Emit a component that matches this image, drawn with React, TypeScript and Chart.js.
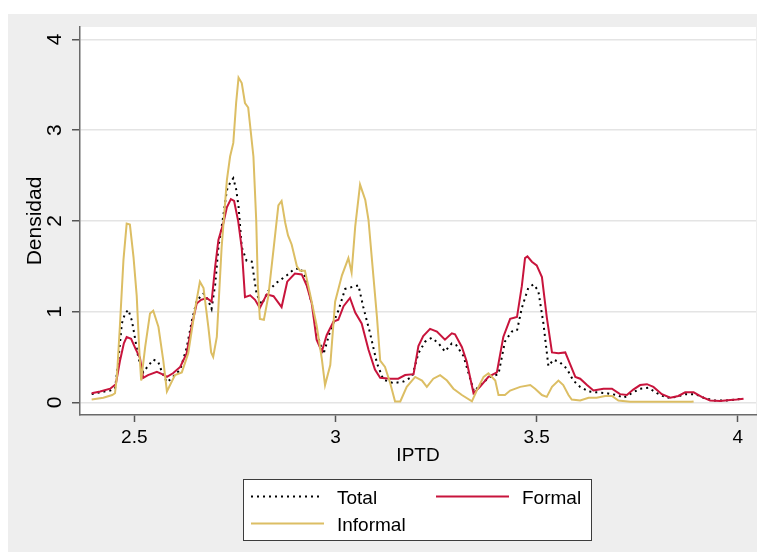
import React, { useEffect, useRef } from 'react';
import { Chart, registerables } from 'chart.js';

Chart.register(...registerables);

const FONT = '"Liberation Sans", Arial, Helvetica, sans-serif';

const seriesNames = ['Total', 'Formal', 'Informal'];
const xTicks = [2.5, 3, 3.5, 4];
const yTicks = [0, 1, 2, 3, 4];
const xTitle = 'IPTD';
const yTitle = 'Densidad';

const totalX = [2.394, 2.415, 2.44, 2.452, 2.459, 2.469, 2.477, 2.485, 2.494, 2.502, 2.51, 2.522, 2.534, 2.547, 2.559, 2.569, 2.581, 2.596, 2.614, 2.63, 2.643, 2.655, 2.672, 2.683, 2.692, 2.701, 2.709, 2.721, 2.73, 2.738, 2.746, 2.753, 2.759, 2.767, 2.779, 2.792, 2.804, 2.817, 2.833, 2.854, 2.879, 2.895, 2.912, 2.924, 2.941, 2.953, 2.97, 2.987, 3.007, 3.024, 3.04, 3.057, 3.069, 3.086, 3.103, 3.119, 3.144, 3.169, 3.19, 3.206, 3.223, 3.239, 3.256, 3.272, 3.289, 3.3, 3.318, 3.33, 3.344, 3.364, 3.384, 3.405, 3.421, 3.438, 3.451, 3.463, 3.479, 3.492, 3.504, 3.517, 3.529, 3.542, 3.558, 3.575, 3.591, 3.608, 3.629, 3.649, 3.674, 3.699, 3.716, 3.736, 3.757, 3.778, 3.799, 3.823, 3.848, 3.869, 3.894, 3.915, 3.939, 3.972, 4.014];
const totalY = [0.09, 0.11, 0.13, 0.15, 0.4, 0.87, 0.98, 1.02, 0.9, 0.7, 0.49, 0.33, 0.4, 0.47, 0.45, 0.33, 0.22, 0.28, 0.36, 0.6, 0.9, 1.12, 1.2, 1.13, 1.03, 1.3, 1.71, 2.05, 2.34, 2.42, 2.47, 2.35, 2.16, 1.71, 1.56, 1.55, 1.19, 1.08, 1.23, 1.32, 1.4, 1.46, 1.48, 1.39, 1.09, 0.77, 0.53, 0.79, 1.01, 1.25, 1.27, 1.29, 1.05, 0.76, 0.43, 0.25, 0.21, 0.23, 0.28, 0.54, 0.67, 0.71, 0.65, 0.56, 0.65, 0.63, 0.51, 0.33, 0.12, 0.21, 0.28, 0.31, 0.67, 0.78, 0.79, 1.04, 1.26, 1.3, 1.23, 0.86, 0.4, 0.47, 0.44, 0.37, 0.24, 0.17, 0.12, 0.11, 0.1, 0.08, 0.05, 0.1, 0.15, 0.16, 0.1, 0.05, 0.06, 0.09, 0.09, 0.05, 0.02, 0.02, 0.04];

const formalX = [2.394, 2.415, 2.44, 2.454, 2.464, 2.474, 2.481, 2.492, 2.504, 2.514, 2.522, 2.534, 2.556, 2.569, 2.581, 2.596, 2.614, 2.63, 2.643, 2.655, 2.666, 2.68, 2.692, 2.701, 2.709, 2.721, 2.73, 2.74, 2.748, 2.758, 2.767, 2.775, 2.788, 2.8, 2.812, 2.829, 2.846, 2.866, 2.88, 2.899, 2.916, 2.929, 2.941, 2.953, 2.966, 2.978, 2.995, 3.007, 3.02, 3.036, 3.049, 3.065, 3.082, 3.098, 3.111, 3.136, 3.156, 3.173, 3.194, 3.206, 3.218, 3.235, 3.252, 3.272, 3.289, 3.297, 3.314, 3.326, 3.343, 3.359, 3.38, 3.401, 3.417, 3.434, 3.451, 3.463, 3.471, 3.477, 3.488, 3.5, 3.513, 3.525, 3.538, 3.554, 3.571, 3.583, 3.596, 3.608, 3.625, 3.641, 3.666, 3.687, 3.707, 3.724, 3.74, 3.757, 3.774, 3.79, 3.811, 3.832, 3.852, 3.869, 3.89, 3.91, 3.931, 3.956, 3.981, 3.997, 4.014];
const formalY = [0.1, 0.12, 0.15, 0.2, 0.45, 0.65, 0.72, 0.7, 0.58, 0.49, 0.27, 0.3, 0.335, 0.31, 0.28, 0.32, 0.39, 0.54, 0.85, 1.09, 1.13, 1.15, 1.11, 1.5, 1.79, 1.97, 2.15, 2.24, 2.22, 2.0, 1.7, 1.16, 1.18, 1.13, 1.04, 1.19, 1.17, 1.05, 1.33, 1.42, 1.41, 1.28, 1.09, 0.69, 0.56, 0.74, 0.89, 0.91, 1.06, 1.15, 0.99, 0.87, 0.58, 0.36, 0.27, 0.26, 0.26, 0.3, 0.31, 0.62, 0.73, 0.81, 0.78, 0.69, 0.76, 0.75, 0.61, 0.45, 0.1, 0.17, 0.28, 0.33, 0.72, 0.92, 0.94, 1.28, 1.59, 1.61, 1.55, 1.51, 1.38, 0.94, 0.55, 0.54, 0.55, 0.42, 0.28, 0.26, 0.19, 0.13, 0.15, 0.15, 0.09, 0.08, 0.14, 0.19, 0.2, 0.17, 0.09, 0.05, 0.07, 0.11, 0.11, 0.06, 0.02, 0.015, 0.025, 0.03, 0.04];

const informalX = [2.394, 2.423, 2.445, 2.452, 2.457, 2.464, 2.473, 2.481, 2.489, 2.498, 2.506, 2.512, 2.517, 2.527, 2.539, 2.547, 2.56, 2.572, 2.581, 2.601, 2.618, 2.634, 2.651, 2.663, 2.672, 2.684, 2.691, 2.696, 2.705, 2.717, 2.73, 2.738, 2.746, 2.753, 2.759, 2.767, 2.775, 2.783, 2.796, 2.803, 2.807, 2.812, 2.822, 2.833, 2.846, 2.858, 2.866, 2.875, 2.882, 2.891, 2.904, 2.912, 2.924, 2.937, 2.953, 2.966, 2.974, 2.987, 2.999, 3.016, 3.032, 3.04, 3.049, 3.061, 3.074, 3.082, 3.09, 3.103, 3.111, 3.123, 3.136, 3.148, 3.161, 3.177, 3.198, 3.215, 3.227, 3.243, 3.26, 3.277, 3.293, 3.314, 3.339, 3.351, 3.368, 3.38, 3.397, 3.405, 3.421, 3.434, 3.459, 3.484, 3.496, 3.513, 3.525, 3.538, 3.554, 3.566, 3.579, 3.587, 3.608, 3.629, 3.649, 3.67, 3.687, 3.703, 3.732, 3.809, 3.884, 3.89];
const informalY = [0.03, 0.05, 0.08, 0.1, 0.3, 0.83, 1.57, 1.97, 1.96, 1.6, 1.17, 0.6, 0.24, 0.61, 0.98, 1.01, 0.83, 0.46, 0.12, 0.3, 0.33, 0.54, 1.03, 1.33, 1.26, 0.83, 0.55, 0.5, 0.72, 1.71, 2.45, 2.71, 2.86, 3.3, 3.58, 3.52, 3.3, 3.25, 2.71, 2.0, 1.3, 0.92, 0.91, 1.17, 1.69, 2.17, 2.22, 1.98, 1.84, 1.74, 1.5, 1.45, 1.45, 1.19, 0.85, 0.48, 0.19, 0.41, 1.11, 1.4, 1.59, 1.43, 1.94, 2.4, 2.23, 2.01, 1.6, 0.94, 0.46, 0.39, 0.21, 0.01, 0.01, 0.17, 0.28, 0.24, 0.17, 0.26, 0.3, 0.24, 0.15, 0.08, 0.01, 0.13, 0.28, 0.32, 0.24, 0.08, 0.08, 0.13, 0.17, 0.19, 0.15, 0.08, 0.06, 0.17, 0.24, 0.19, 0.08, 0.03, 0.02, 0.05, 0.05, 0.07, 0.07, 0.02, 0.005, 0.005, 0.005, 0.01];

const toPoints = (xs: number[], ys: number[]) => xs.map((x, i) => ({ x, y: ys[i] }));

const legendPlugin = {
  id: 'stataLegend',
  afterDraw(chart: any) {
    const ctx = chart.ctx;
    const ds = chart.data.datasets;
    ctx.save();
    ctx.fillStyle = '#ffffff';
    ctx.fillRect(235, 465, 349, 62);
    ctx.strokeStyle = '#3c3c3c';
    ctx.lineWidth = 1;
    ctx.strokeRect(235.5, 465.5, 348, 61);
    const items = [
      { i: 0, x1: 243, x2: 314, y: 482.5, tx: 329, ty: 490 },
      { i: 1, x1: 428, x2: 501, y: 482.5, tx: 514, ty: 490 },
      { i: 2, x1: 243, x2: 316, y: 509.5, tx: 329, ty: 517 },
    ];
    ctx.font = `19px ${FONT}`;
    ctx.textBaseline = 'alphabetic';
    ctx.textAlign = 'left';
    for (const it of items) {
      const d = ds[it.i];
      ctx.strokeStyle = d.borderColor;
      ctx.lineWidth = d.borderWidth;
      ctx.setLineDash(d.borderDash || []);
      ctx.beginPath();
      ctx.moveTo(it.x1, it.y);
      ctx.lineTo(it.x2, it.y);
      ctx.stroke();
      ctx.setLineDash([]);
      ctx.fillStyle = '#000000';
      ctx.fillText(d.label, it.tx, it.ty);
    }
    ctx.restore();
  },
};

const areaPlugin = {
  id: 'plotArea',
  beforeDraw(chart: any) {
    const { ctx, chartArea } = chart;
    ctx.save();
    ctx.fillStyle = '#ffffff';
    ctx.fillRect(chartArea.left, chartArea.top, chartArea.right - chartArea.left, chartArea.bottom - chartArea.top);
    ctx.restore();
  },
};

export default function App() {
  const ref = useRef<HTMLCanvasElement | null>(null);
  useEffect(() => {
    if (!ref.current) return;
    const chart = new Chart(ref.current, {
      type: 'line',
      data: {
        datasets: [
          {
            label: seriesNames[0],
            data: toPoints(totalX, totalY),
            borderColor: '#000000',
            borderWidth: 2,
            borderDash: [2, 4],
            pointRadius: 0,
            tension: 0,
            fill: false,
            order: 3,
          },
          {
            label: seriesNames[1],
            data: toPoints(formalX, formalY),
            borderColor: '#c8143c',
            borderWidth: 2,
            pointRadius: 0,
            tension: 0,
            fill: false,
            order: 2,
          },
          {
            label: seriesNames[2],
            data: toPoints(informalX, informalY),
            borderColor: '#dcbe64',
            borderWidth: 2,
            pointRadius: 0,
            tension: 0,
            fill: false,
            order: 1,
          },
        ],
      },
      options: {
        animation: false,
        responsive: false,
        maintainAspectRatio: false,
        layout: { padding: { top: 13, right: 1, left: 0, bottom: 0 } },
        plugins: {
          legend: { display: false },
          tooltip: { enabled: false },
        },
        scales: {
          x: {
            type: 'linear',
            min: 2.365,
            max: 4.045,
            afterBuildTicks: (s: any) => {
              s.ticks = xTicks.map((v) => ({ value: v }));
            },
            afterFit: (s: any) => {
              s.height = 137;
              s.paddingLeft = 0;
              s.paddingRight = 0;
            },
            ticks: {
              color: '#000000',
              font: { family: FONT, size: 19 },
              padding: 4,
              maxRotation: 0,
              autoSkip: false,
              callback: (v: any) => String(v),
            },
            grid: {
              drawOnChartArea: false,
              drawTicks: true,
              tickLength: 7,
              tickColor: '#555555',
              tickWidth: 1.5,
            },
            border: { display: true, color: '#6a6a6a', width: 1.5 },
            title: {
              display: true,
              text: xTitle,
              color: '#000000',
              font: { family: FONT, size: 19 },
              padding: { top: 0, bottom: 84.6 },
            },
          },
          y: {
            type: 'linear',
            min: -0.14,
            max: 4.138,
            afterBuildTicks: (s: any) => {
              s.ticks = yTicks.map((v) => ({ value: v }));
            },
            afterFit: (s: any) => {
              s.width = 72;
              s.paddingTop = 0;
              s.paddingBottom = 0;
            },
            ticks: {
              color: '#000000',
              font: { family: FONT, size: 21 },
              padding: 10.6,
              minRotation: 90,
              maxRotation: 90,
              crossAlign: 'center',
              autoSkip: false,
              callback: (v: any) => String(v),
            },
            grid: {
              color: '#e4e4e4',
              lineWidth: 1.5,
              drawTicks: true,
              tickLength: 8,
              tickColor: '#555555',
              tickWidth: 1.5,
            },
            border: { display: true, color: '#6a6a6a', width: 1.5 },
            title: {
              display: true,
              text: yTitle,
              color: '#000000',
              font: { family: FONT, size: 21 },
              padding: { top: 14.4, bottom: 0 },
            },
          },
        },
      },
      plugins: [areaPlugin, legendPlugin],
    } as any);
    return () => chart.destroy();
  }, []);

  return (
    <div
      style={{
        position: 'fixed',
        left: 8,
        top: 14,
        width: 749,
        height: 538,
        background: '#eeeeee',
      }}
    >
      <canvas ref={ref} width={749} height={538} style={{ width: 749, height: 538, display: 'block' }} />
    </div>
  );
}
